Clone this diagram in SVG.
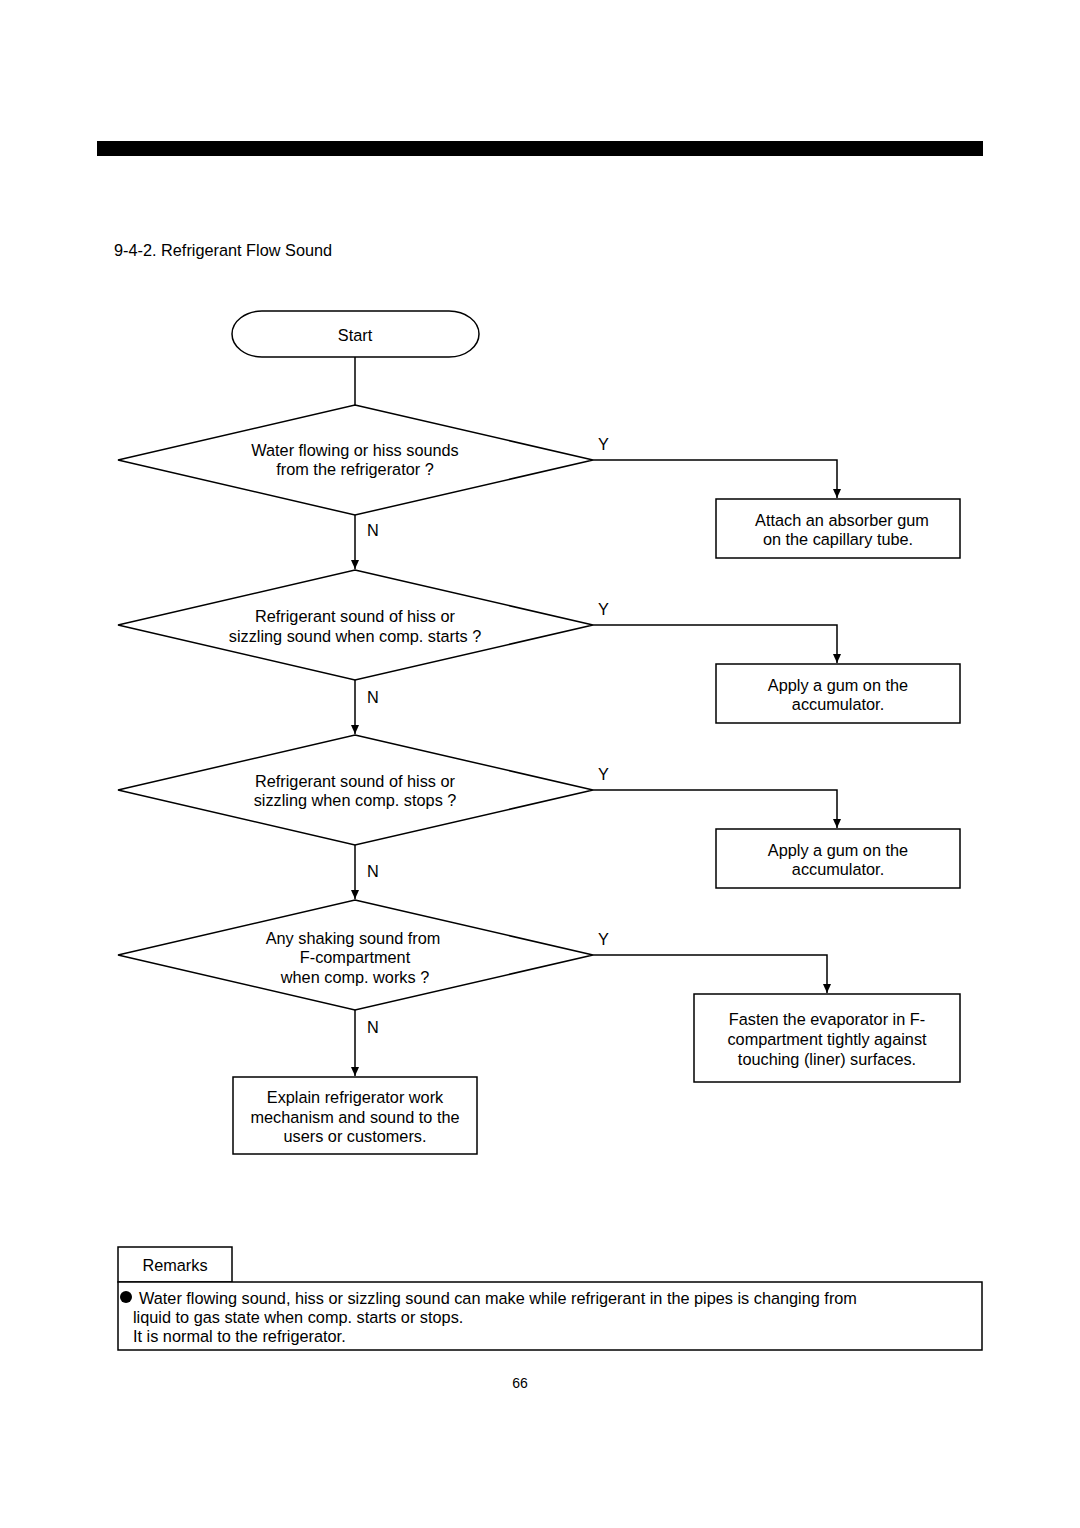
<svg xmlns="http://www.w3.org/2000/svg" width="1080" height="1528" viewBox="0 0 1080 1528">
<defs>
<style>
text{font-family:"Liberation Sans",Arial,sans-serif;font-size:16.3px;fill:#000}
.c{text-anchor:middle}
.s{fill:#fff;stroke:#000;stroke-width:1.5}
.l{fill:none;stroke:#000;stroke-width:1.5}
</style>
<marker id="ah" markerWidth="10" markerHeight="10" refX="9" refY="5" orient="auto" markerUnits="userSpaceOnUse">
<path d="M0,1 L9,5 L0,9 Z" fill="#000"/>
</marker>
</defs>
<rect width="1080" height="1528" fill="#fff"/>
<rect x="97" y="141" width="886" height="15" fill="#000"/>
<text x="114" y="256">9-4-2. Refrigerant Flow Sound</text>

<g id="connectors">
<path class="l" d="M355,357 V405"/>
<path class="l" d="M593,460 H837 V498" marker-end="url(#ah)"/>
<path class="l" d="M355,515 V569" marker-end="url(#ah)"/>
<path class="l" d="M593,625 H837 V663" marker-end="url(#ah)"/>
<path class="l" d="M355,680 V734" marker-end="url(#ah)"/>
<path class="l" d="M593,790 H837 V828" marker-end="url(#ah)"/>
<path class="l" d="M355,845 V899" marker-end="url(#ah)"/>
<path class="l" d="M593,955 H827 V993" marker-end="url(#ah)"/>
<path class="l" d="M355,1010 V1076" marker-end="url(#ah)"/>
<text x="598" y="450">Y</text>
<text x="598" y="615">Y</text>
<text x="598" y="780">Y</text>
<text x="598" y="945">Y</text>
<text x="367" y="536">N</text>
<text x="367" y="703">N</text>
<text x="367" y="877">N</text>
<text x="367" y="1033">N</text>
</g>

<g id="start">
<rect class="s" x="232" y="311" width="247" height="46" rx="30" ry="23"/>
<text class="c" x="355" y="341">Start</text>
</g>

<g id="d1">
<polygon class="s" points="355,405 593,460 355,515 118,460"/>
<text class="c" x="355" y="456">Water flowing or hiss sounds</text>
<text class="c" x="355" y="475">from the refrigerator ?</text>
</g>
<g id="b1">
<rect class="s" x="716" y="499" width="244" height="59"/>
<text class="c" x="842" y="526">Attach an absorber gum</text>
<text class="c" x="838" y="545">on the capillary tube.</text>
</g>

<g id="d2">
<polygon class="s" points="355,570 593,625 355,680 118,625"/>
<text class="c" x="355" y="622">Refrigerant sound of hiss or</text>
<text class="c" x="355" y="642">sizzling sound when comp. starts ?</text>
</g>
<g id="b2">
<rect class="s" x="716" y="664" width="244" height="59"/>
<text class="c" x="838" y="691">Apply a gum on the</text>
<text class="c" x="838" y="710">accumulator.</text>
</g>

<g id="d3">
<polygon class="s" points="355,735 593,790 355,845 118,790"/>
<text class="c" x="355" y="787">Refrigerant sound of hiss or</text>
<text class="c" x="355" y="806">sizzling when comp. stops ?</text>
</g>
<g id="b3">
<rect class="s" x="716" y="829" width="244" height="59"/>
<text class="c" x="838" y="856">Apply a gum on the</text>
<text class="c" x="838" y="875">accumulator.</text>
</g>

<g id="d4">
<polygon class="s" points="355,900 593,955 355,1010 118,955"/>
<text class="c" x="353" y="944">Any shaking sound from</text>
<text class="c" x="355" y="963">F-compartment</text>
<text class="c" x="355" y="983">when comp. works ?</text>
</g>
<g id="b4">
<rect class="s" x="694" y="994" width="266" height="88"/>
<text class="c" x="827" y="1025">Fasten the evaporator in F-</text>
<text class="c" x="827" y="1045">compartment tightly against</text>
<text class="c" x="827" y="1065">touching (liner) surfaces.</text>
</g>

<g id="b5">
<rect class="s" x="233" y="1077" width="244" height="77"/>
<text class="c" x="355" y="1103">Explain refrigerator work</text>
<text class="c" x="355" y="1123">mechanism and sound to the</text>
<text class="c" x="355" y="1142">users or customers.</text>
</g>

<g id="remarks">
<rect class="s" x="118" y="1247" width="114" height="35"/>
<text class="c" x="175" y="1271">Remarks</text>
<rect class="s" x="118" y="1282" width="864" height="68"/>
<circle cx="126" cy="1297" r="6" fill="#000"/>
<text x="139" y="1304">Water flowing sound, hiss or sizzling sound can make while refrigerant in the pipes is changing from</text>
<text x="133" y="1323">liquid to gas state when comp. starts or stops.</text>
<text x="133" y="1342">It is normal to the refrigerator.</text>
</g>
<text class="c" x="520" y="1388" style="font-size:14px">66</text>
</svg>
